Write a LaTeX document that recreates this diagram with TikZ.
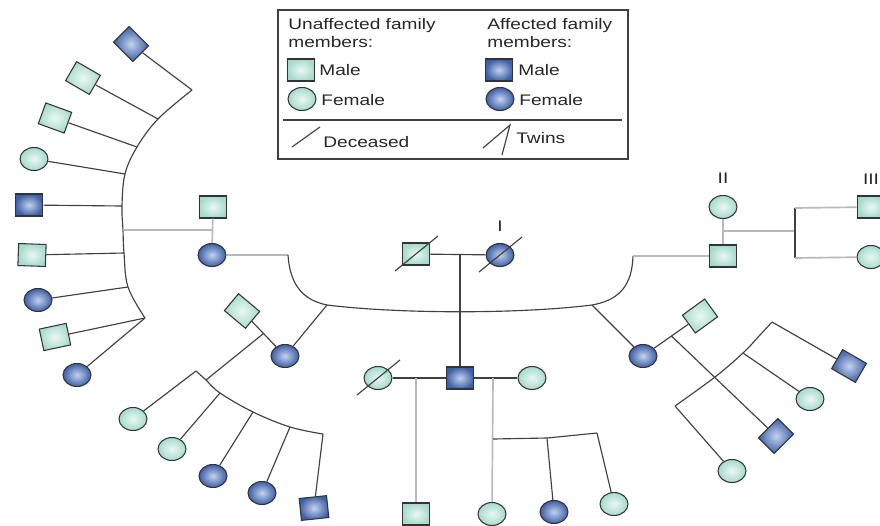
\documentclass[tikz,border=0pt]{standalone}
\usepackage{fontspec}
\newfontfamily\pedfont{Liberation Sans}[FakeStretch=1.25]
\usetikzlibrary{shapes.geometric,positioning,calc}
\definecolor{mintin}{HTML}{EAF8F3}
\definecolor{mintout}{HTML}{A6DACB}
\definecolor{bluein}{HTML}{C3D2EE}
\definecolor{blueout}{HTML}{3D5FA6}
\definecolor{pedgray}{HTML}{404040}
\tikzset{
  pedline/.style={draw=pedgray, line width=0.65pt},
  pedpale/.style={draw=gray!55, line width=0.95pt},
  pednode/.style={draw=black!80, line width=0.6pt, inner sep=0pt},
}
\newcommand{\deceased}[1]{\draw[pedline] ([shift={(-21,17)}]#1.center) -- ([shift={(22,-18)}]#1.center);}

\begin{document}
\begin{tikzpicture}[
  x=0.02cm, y=-0.02cm,
  font=\pedfont\fontsize{8.7}{10.2}\selectfont,
  text=black!85,
  male/.style={pednode, rectangle, minimum width=0.55cm, minimum height=0.44cm},
  female/.style={pednode, ellipse, minimum width=0.56cm, minimum height=0.46cm},
  unaf/.style={inner color=mintin, outer color=mintout},
  afct/.style={inner color=bluein, outer color=blueout},
  gen/.style={inner sep=0pt},
  txt/.style={anchor=base west, inner sep=0pt},
]
  \useasboundingbox (0,0) rectangle (880,525);

  % key
  \draw[draw=pedgray, line width=0.8pt] (278,10) rectangle (628,159);
  \draw[pedline] (283,120) -- (622,120);
  \node[anchor=north west, align=left, inner sep=0pt] (kunaf) at (288,18) {Unaffected family\\members:};
  \node[anchor=north west, align=left, inner sep=0pt] (kafct) at (487,18) {Affected family\\members:};
  \node[male, unaf] (kum) at (301,70) {};
  \node[female, unaf] (kuf) at (302,99) {};
  \node[male, afct] (kam) at (499,70) {};
  \node[female, afct] (kaf) at (500,99) {};
  \node[txt] (tum) at (319,75) {Male};
  \node[txt] (tuf) at (321,105) {Female};
  \node[txt] (tam) at (518,75) {Male};
  \node[txt] (taf) at (519,105) {Female};
  \draw[pedline] (292,147) -- (320,127);
  \node[txt] (tdc) at (323,147) {Deceased};
  \draw[pedline] (483,148) -- (510,125) -- (502,155);
  \node[txt] (ttw) at (516,143) {Twins};

  % generation I
  \node[male, unaf] (gf) at (416,254) {};
  \node[female, afct] (gm) at (500,255) {};
  \node[gen, above=0.22cm of gm] (lI) {I};
  \deceased{gf}
  \deceased{gm}
  \draw[pedline] (gf) -- (gm);
  \coordinate (gI) at (460,255);

  % generation II
  \node[female, afct] (lw) at (212,255) {};
  \node[male, unaf] (lsp) at (213,207) {};
  \node[female, afct] (mw) at (285,356) {};
  \node[male, unaf, rotate=-40] (msp) at (242,311) {};
  \node[male, afct] (sn) at (460,378) {};
  \node[female, unaf] (sl) at (378,378) {};
  \node[female, unaf] (sr) at (532,378) {};
  \deceased{sl}
  \node[female, afct] (rw) at (643,356) {};
  \node[male, unaf, rotate=36] (rsp) at (700,316) {};
  \node[male, unaf] (m2r) at (723,256) {};
  \node[female, unaf] (f2r) at (723,207) {};
  \node[gen, above=0.22cm of f2r] (lII) {II};

  \coordinate (uL) at (288,255);
  \coordinate (uA) at (327,305);
  \coordinate (uB) at (592,305);
  \coordinate (uR) at (633,256);
  \draw[pedpale] (lw) -- (uL);
  \draw[pedline] (uL) .. controls (290,285) and (303,300) .. (uA)
    .. controls (400,314) and (520,314) .. (uB)
    .. controls (620,300) and (632,285) .. (uR);
  \draw[pedpale] (uR) -- (m2r);
  \draw[pedline] (uA) -- (mw);
  \draw[pedline] (uB) -- (rw);
  \draw[pedline] (gI) -- (sn);

  % left fan
  \node[male, afct, rotate=-45] (lf1) at (131,44) {};
  \node[male, unaf, rotate=-30] (lf2) at (83,78) {};
  \node[male, unaf, rotate=-20] (lf3) at (55,118) {};
  \node[female, unaf] (lf4) at (34,159) {};
  \node[male, afct] (lf5) at (29,205) {};
  \node[male, unaf, rotate=-2] (lf6) at (32,255) {};
  \node[female, afct] (lf7) at (38,300) {};
  \node[male, unaf, rotate=12] (lf8) at (55,337) {};
  \node[female, afct] (lf9) at (77,375) {};
  \coordinate (lt0) at (192,90);
  \coordinate (lt1) at (158,119);
  \coordinate (lt2) at (137,147);
  \coordinate (lt3) at (125,174);
  \coordinate (lt4) at (122,206);
  \coordinate (lt5) at (123,230);
  \coordinate (lt6) at (124,253);
  \coordinate (lt7) at (128,287);
  \coordinate (lt8) at (145,318);
  \draw[pedline] plot[smooth, tension=0.6] coordinates {(lt0) (lt1) (lt2) (lt3) (lt4) (lt5) (lt6) (lt7) (lt8)};
  \foreach \c/\p in {lf1/lt0, lf2/lt1, lf3/lt2, lf4/lt3, lf5/lt4, lf6/lt6, lf7/lt7, lf8/lt8, lf9/lt8}
    \draw[pedline] (\c) -- (\p);
  \draw[pedpale] (lsp) -- (lw);
  \coordinate (lsm) at (213,230);
  \draw[pedpale] (lsm) -- (lt5);

  % lower left sibship
  \node[female, unaf] (c1) at (133,419) {};
  \node[female, unaf] (c2) at (172,449) {};
  \node[female, afct] (c3) at (213,476) {};
  \node[female, afct] (c4) at (262,493) {};
  \node[male, afct, rotate=6] (c5) at (314,508) {};
  \draw[pedline] (msp) -- (mw);
  \coordinate (mm) at ($(msp)!0.5!(mw)$);
  \coordinate (ll0) at (196,371);
  \coordinate (llj) at (206,380);
  \coordinate (ll1) at (220,393);
  \coordinate (ll2) at (253,412);
  \coordinate (ll3) at (290,427);
  \coordinate (ll4) at (323,434);
  \draw[pedline] plot[smooth, tension=0.6] coordinates {(ll0) (llj) (ll1) (ll2) (ll3) (ll4)};
  \draw[pedline] (mm) -- (llj);
  \foreach \c/\p in {c1/ll0, c2/ll1, c3/ll2, c4/ll3, c5/ll4}
    \draw[pedline] (\c) -- (\p);

  % son's children
  \node[male, unaf] (g1) at (416,514) {};
  \node[female, unaf] (g2) at (492,514) {};
  \node[female, afct] (g3) at (554,512) {};
  \node[female, unaf] (g4) at (614,504) {};
  \draw[pedline] (sl) -- (sn);
  \draw[pedline] (sn) -- (sr);
  \coordinate (sLm) at (416,378);
  \coordinate (sRm) at (493,378);
  \draw[pedpale] (sLm) -- (g1);
  \draw[pedpale] (sRm) -- (g2);
  \coordinate (sb0) at (493,439);
  \coordinate (sb1) at (547,438);
  \coordinate (sb2) at (597,433);
  \draw[pedline] (sb0) -- (sb1) -- (sb2);
  \draw[pedline] (sb1) -- (g3);
  \draw[pedline] (sb2) -- (g4);

  % right sibship
  \node[male, afct, rotate=45] (r1) at (776,436) {};
  \node[female, unaf] (r2) at (810,399) {};
  \node[male, afct, rotate=-30] (r3) at (849,366) {};
  \node[female, unaf] (r4) at (732,471) {};
  \draw[pedline] (rw) -- (rsp);
  \coordinate (rm) at ($(rsp)!0.5!(rw)$);
  \draw[pedline] (rm) -- (r1);
  \coordinate (ra0) at (675,406);
  \coordinate (ra1) at (715,377);
  \coordinate (ra2) at (743,353);
  \coordinate (ra3) at (760,335);
  \coordinate (ra4) at (772,322);
  \draw[pedline] plot[smooth, tension=0.6] coordinates {(ra0) (ra1) (ra2) (ra3) (ra4)};
  \foreach \c/\p in {r4/ra0, r2/ra2, r3/ra4}
    \draw[pedline] (\c) -- (\p);

  % generation III
  \node[male, unaf] (m3) at (871,207) {};
  \node[female, unaf] (f3) at (871,257) {};
  \node[gen, above=0.22cm of m3] (lIII) {III};
  \draw[pedpale] (f2r) -- (m2r);
  \coordinate (rtm) at (723,231);
  \coordinate (rtj) at (795,231);
  \coordinate (rt3) at (795,208);
  \coordinate (rt4) at (795,258);
  \draw[pedpale] (rtm) -- (rtj);
  \draw[pedline] (rt3) -- (rt4);
  \draw[pedpale] (rt3) -- (m3);
  \draw[pedpale] (rt4) -- (f3);
\end{tikzpicture}
\end{document}
